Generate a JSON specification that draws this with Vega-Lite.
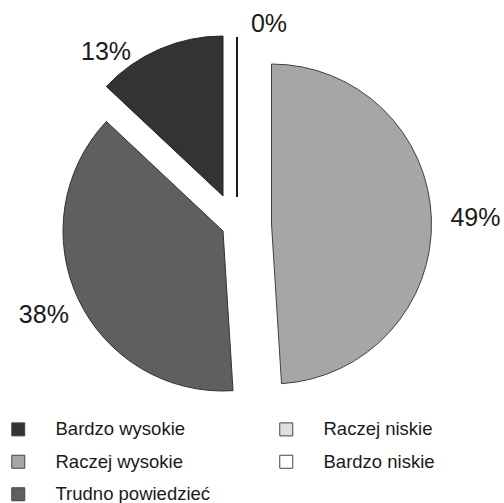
{
  "$schema": "https://vega.github.io/schema/vega-lite/v6.json",
  "width": 492,
  "height": 442,
  "autosize": {"type": "none"},
  "padding": {"left": 0, "top": 0, "right": 12, "bottom": 61},
  "background": "white",
  "data": {
    "values": [
      {"category": "Raczej wysokie", "value": 49, "label": "49%"},
      {"category": "Trudno powiedzieć", "value": 38, "label": "38%"},
      {"category": "Bardzo wysokie", "value": 13, "label": "13%"},
      {"category": "Raczej niskie", "value": 0, "label": "0%"},
      {"category": "Bardzo niskie", "value": 0, "label": "0%"}
    ]
  },
  "transform": [
    {"calculate": "indexof(['Raczej wysokie','Trudno powiedzieć','Bardzo wysokie','Raczej niskie','Bardzo niskie'], datum.category)", "as": "ord"},
    {"stack": "value", "groupby": [], "sort": [{"field": "ord", "order": "ascending"}], "as": ["v0", "v1"]},
    {"calculate": "(datum.v0 + datum.v1) / 2", "as": "mid"}
  ],
  "config": {
    "view": {"stroke": null},
    "legend": {
      "labelFont": "Liberation Sans",
      "labelFontSize": 18.5,
      "labelFontWeight": "normal",
      "labelColor": "#1a1a1a",
      "symbolType": "square",
      "symbolSize": 169,
      "symbolStrokeColor": "#444444",
      "symbolStrokeWidth": 1,
      "labelOffset": 28,
      "rowPadding": 13.5,
      "columnPadding": 66,
      "padding": 0
    }
  },
  "layer": [
    {
      "transform": [{"filter": "datum.category === 'Raczej wysokie'"}],
      "mark": {"type": "arc", "radius": 160, "stroke": "#404040", "strokeWidth": 1, "xOffset": 25.5, "yOffset": 3},
      "encoding": {
        "theta": {"field": "v0", "type": "quantitative", "scale": {"domain": [0, 100], "range": [0, 6.283185307]}},
        "theta2": {"field": "v1"},
        "color": {
          "field": "category",
          "type": "nominal",
          "scale": {
            "domain": ["Bardzo wysokie", "Raczej niskie", "Raczej wysokie", "Bardzo niskie", "Trudno powiedzieć"],
            "range": ["#333333", "#e0e0e0", "#a6a6a6", "#ffffff", "#5f5f5f"]
          },
          "legend": {"title": null, "orient": "none", "legendX": 9, "legendY": 420, "columns": 2, "direction": "horizontal"}
        }
      }
    },
    {
      "transform": [{"filter": "datum.category === 'Trudno powiedzieć'"}],
      "mark": {"type": "arc", "radius": 160, "stroke": "#333333", "strokeWidth": 1, "xOffset": -23, "yOffset": 10},
      "encoding": {
        "theta": {"field": "v0", "type": "quantitative", "scale": {"domain": [0, 100], "range": [0, 6.283185307]}},
        "theta2": {"field": "v1"},
        "color": {"field": "category", "type": "nominal"}
      }
    },
    {
      "transform": [{"filter": "datum.category === 'Bardzo wysokie'"}],
      "mark": {"type": "arc", "radius": 160, "stroke": "#222222", "strokeWidth": 1, "xOffset": -23, "yOffset": -25},
      "encoding": {
        "theta": {"field": "v0", "type": "quantitative", "scale": {"domain": [0, 100], "range": [0, 6.283185307]}},
        "theta2": {"field": "v1"},
        "color": {"field": "category", "type": "nominal"}
      }
    },
    {
      "transform": [{"filter": "datum.value === 0"}],
      "mark": {"type": "arc", "radius": 160, "stroke": "#111111", "strokeWidth": 1.5, "xOffset": -9, "yOffset": -24},
      "encoding": {
        "theta": {"field": "v0", "type": "quantitative", "scale": {"domain": [0, 100], "range": [0, 6.283185307]}},
        "theta2": {"field": "v1"},
        "color": {"field": "category", "type": "nominal"}
      }
    },
    {
      "transform": [{"filter": "datum.category === 'Raczej wysokie'"}],
      "mark": {"type": "text", "radius": 204, "font": "Liberation Sans", "fontSize": 25, "color": "#1a1a1a", "align": "center", "baseline": "middle", "xOffset": 25.5, "yOffset": 3},
      "encoding": {
        "theta": {"field": "mid", "type": "quantitative", "scale": {"domain": [0, 100], "range": [0, 6.283185307]}},
        "text": {"field": "label"}
      }
    },
    {
      "transform": [{"filter": "datum.category === 'Trudno powiedzieć'"}],
      "mark": {"type": "text", "radius": 198, "font": "Liberation Sans", "fontSize": 25, "color": "#1a1a1a", "align": "center", "baseline": "middle", "xOffset": -23, "yOffset": 10},
      "encoding": {
        "theta": {"field": "mid", "type": "quantitative", "scale": {"domain": [0, 100], "range": [0, 6.283185307]}},
        "text": {"field": "label"}
      }
    },
    {
      "transform": [{"filter": "datum.category === 'Bardzo wysokie'"}],
      "mark": {"type": "text", "radius": 185, "font": "Liberation Sans", "fontSize": 25, "color": "#1a1a1a", "align": "center", "baseline": "middle", "xOffset": -66.5, "yOffset": 0.8},
      "encoding": {
        "theta": {"field": "mid", "type": "quantitative", "scale": {"domain": [0, 100], "range": [0, 6.283185307]}},
        "text": {"field": "label"}
      }
    },
    {
      "transform": [{"filter": "datum.category === 'Raczej niskie'"}],
      "mark": {"type": "text", "radius": 176, "font": "Liberation Sans", "fontSize": 25, "color": "#1a1a1a", "align": "center", "baseline": "middle", "xOffset": 23, "yOffset": -21},
      "encoding": {
        "theta": {"field": "mid", "type": "quantitative", "scale": {"domain": [0, 100], "range": [0, 6.283185307]}},
        "text": {"field": "label"}
      }
    }
  ]
}
